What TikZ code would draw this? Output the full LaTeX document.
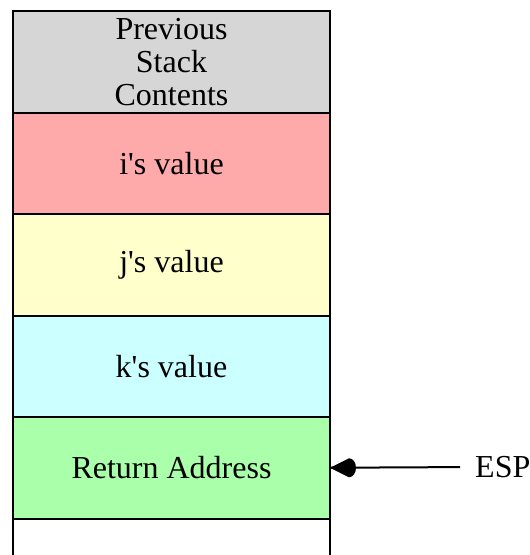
\documentclass[tikz,border=0pt]{standalone}
\usepackage{fontspec}
\setmainfont{Liberation Serif}
\usetikzlibrary{arrows.meta,positioning}
\definecolor{prevgray}{HTML}{D6D6D6}
\definecolor{ivalred}{HTML}{FFAAAA}
\definecolor{jvalyellow}{HTML}{FFFFCC}
\definecolor{kvalcyan}{HTML}{CCFFFF}
\definecolor{retgreen}{HTML}{AAFFAA}
\tikzset{
  slot/.style={draw=black,line width=2pt,outer sep=0pt,inner sep=0pt,
               minimum width=317pt,minimum height=101.5pt,
               align=center,font=\fontsize{32}{33}\selectfont},
  pointer/.style={line width=2pt}
}
\begin{document}
\begin{tikzpicture}[x=1pt,y=1pt]
  \clip (0,0) rectangle (530,-555);
  \fill[white] (0,0) rectangle (530,-555);

  % stack cells, top to bottom
  \node[slot,fill=prevgray,anchor=north west] (prev) at (13,-11)
    {Previous\\Stack\\Contents};
  \node[slot,fill=ivalred,below=0pt of prev] (ival) {i\textquotesingle s value};
  \node[slot,fill=jvalyellow,below=0pt of ival] (jval) {j\textquotesingle s value};
  \node[slot,fill=kvalcyan,below=0pt of jval] (kval) {k\textquotesingle s value};
  \node[slot,fill=retgreen,below=0pt of kval] (ret) {Return Address};
  \node[slot,fill=white,below=0pt of ret] (free) {};

  % stack pointer
  \node[font=\fontsize{32}{33}\selectfont,inner sep=0pt,anchor=west] (esp) at (475,-467) {ESP};
  \draw[pointer,shorten >=15pt] (ret.east) -- (esp.west);
  \fill[black] (ret.east) -- ++(19,9.5)
    arc[start angle=90,end angle=-90,x radius=7,y radius=9.5] -- cycle;
\end{tikzpicture}
\end{document}
